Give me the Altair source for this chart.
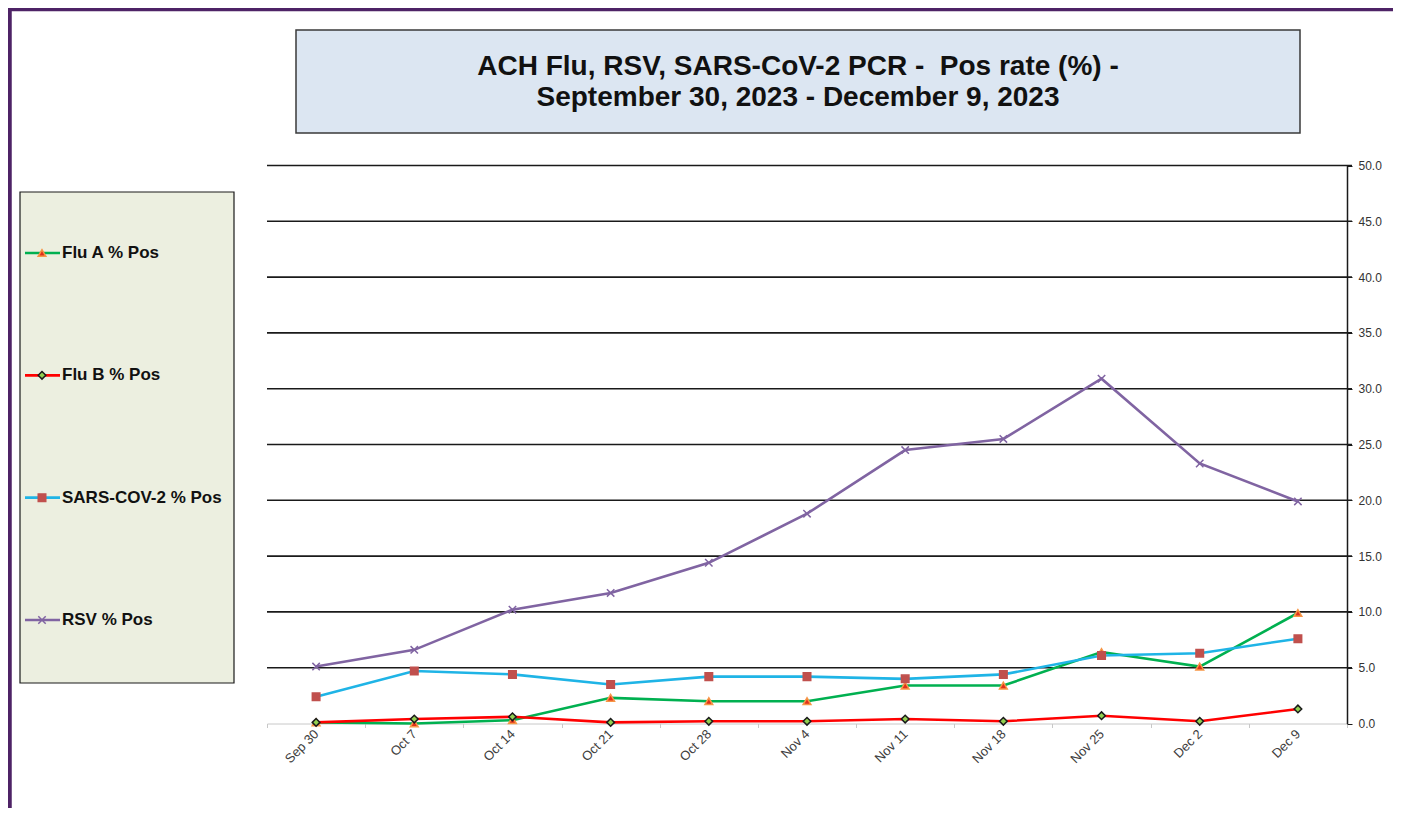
import altair as alt
import pandas as pd

# ---------------- data ----------------
weeks = ["Sep 30", "Oct 7", "Oct 14", "Oct 21", "Oct 28", "Nov 4",
         "Nov 11", "Nov 18", "Nov 25", "Dec 2", "Dec 9"]
series_names = ["Flu A % Pos", "Flu B % Pos", "SARS-COV-2 % Pos", "RSV % Pos"]
flu_a = [0.1, 0.0, 0.3, 2.3, 2.0, 2.0, 3.4, 3.4, 6.4, 5.1, 9.9]
flu_b = [0.1, 0.4, 0.6, 0.1, 0.2, 0.2, 0.4, 0.2, 0.7, 0.2, 1.3]
sars = [2.4, 4.7, 4.4, 3.5, 4.2, 4.2, 4.0, 4.4, 6.1, 6.3, 7.6]
rsv = [5.1, 6.6, 10.2, 11.7, 14.4, 18.8, 24.5, 25.5, 30.9, 23.3, 19.9]
y_ticks = [0, 5, 10, 15, 20, 25, 30, 35, 40, 45, 50]
title_lines = ["ACH Flu, RSV, SARS-CoV-2 PCR - \u00a0Pos rate (%) -",
               "September 30, 2023 - December 9, 2023"]

# ---------------- styles ----------------
line_colors = ["#00B050", "#FF0000", "#1FB4E6", "#8064A2"]
marker_fills = ["#E0301C", "#92D050", "#C0504D", "#8064A2"]
marker_strokes = ["#F79646", "#1A1A1A", "#C0504D", "#8064A2"]
marker_shapes = ["triangle-up", "diamond", "square", "M-1,-1L1,1M-1,1L1,-1"]
marker_sizes = [60, 55, 85, 110]
FONT = "Liberation Sans"

W, H = 1385, 800

rows = []
for name, vals in zip(series_names, [flu_a, flu_b, sars, rsv]):
    for i, (w, v) in enumerate(zip(weeks, vals)):
        rows.append({"week": w, "series": name, "value": v, "idx": i})
df = pd.DataFrame(rows)
grid_df = pd.DataFrame({"value": [t for t in y_ticks if t != 0]})
legend_df = pd.DataFrame({"series": series_names})
one = pd.DataFrame({"a": [0]})

color_enc = alt.Color("series:N", scale=alt.Scale(domain=series_names, range=line_colors), legend=None)
shape_enc = alt.Shape("series:N", scale=alt.Scale(domain=series_names, range=marker_shapes), legend=None)
fill_enc = alt.Fill("series:N", scale=alt.Scale(domain=series_names, range=marker_fills), legend=None)
stroke_enc = alt.Stroke("series:N", scale=alt.Scale(domain=series_names, range=marker_strokes), legend=None)
size_enc = alt.Size("series:N", scale=alt.Scale(domain=series_names, range=marker_sizes), legend=None)

x_enc = alt.X(
    "week:N", sort=weeks,
    scale=alt.Scale(type="band", domain=weeks, range=[259, 1339], paddingInner=0, paddingOuter=0),
    axis=alt.Axis(title=None, orient="bottom", offset=715.5 - H, labelAngle=-45,
                  labelAlign="right", labelBaseline="middle", labelFont=FONT,
                  labelFontSize=13, labelColor="#404040", labelPadding=4,
                  domainColor="#C8C8C8", domainWidth=1, tickColor="#C8C8C8",
                  tickSize=4, tickBand="extent", grid=False),
)
y_enc = alt.Y(
    "value:Q",
    scale=alt.Scale(domain=[0, 50], range=[715.5, 157.5], nice=False, zero=True),
    axis=alt.Axis(title=None, orient="right", offset=1339 - W, values=y_ticks, format=".1f",
                  grid=False, domainColor="#1A1A1A", domainWidth=1.5,
                  tickColor="#1A1A1A", tickSize=5, labelFont=FONT, labelFontSize=12,
                  labelColor="#333333", labelPadding=6),
)

gridlines = alt.Chart(grid_df).mark_rule(color="#1A1A1A", strokeWidth=1.6).encode(
    y=y_enc, x=alt.value(259), x2=alt.value(1344))
lines = alt.Chart(df).mark_line(strokeWidth=2.6).encode(
    x=x_enc, y=y_enc, color=color_enc, order=alt.Order("idx:Q"))
points = alt.Chart(df).mark_point(filled=True, strokeWidth=1.5, opacity=1).encode(
    x=x_enc, y=y_enc, shape=shape_enc, fill=fill_enc, stroke=stroke_enc, size=size_enc)
main = alt.layer(gridlines, lines, points)

legend_y = alt.Y("series:N", scale=alt.Scale(type="point", domain=series_names,
                                             range=[245, 612], padding=0), axis=None)
leg_rule = alt.Chart(legend_df).mark_rule(strokeWidth=2.6).encode(
    x=alt.value(17), x2=alt.value(52), y=legend_y, color=color_enc)
leg_pts = alt.Chart(legend_df).mark_point(filled=True, strokeWidth=1.5, opacity=1).encode(
    x=alt.value(34), y=legend_y, shape=shape_enc, fill=fill_enc, stroke=stroke_enc, size=size_enc)
leg_txt = alt.Chart(legend_df).mark_text(align="left", baseline="middle", font=FONT,
                                         fontSize=17, fontWeight="bold", color="#111111").encode(
    x=alt.value(54), y=legend_y, text="series:N")
legend_box = alt.Chart(one).mark_rect(fill="#ECEFE0", stroke="#1A1A1A", strokeWidth=1.2).encode(
    x=alt.value(12), x2=alt.value(226), y=alt.value(184), y2=alt.value(675))
legend = alt.layer(leg_rule, leg_pts, leg_txt)

title_box = alt.Chart(one).mark_rect(fill="#DCE6F2", stroke="#3A3A3A", strokeWidth=1.5).encode(
    x=alt.value(288), x2=alt.value(1292), y=alt.value(22), y2=alt.value(125))
title1 = alt.Chart(one).mark_text(text=title_lines[0], font=FONT, fontSize=28, fontWeight="bold",
                                  align="center", baseline="middle", color="#111111").encode(
    x=alt.value(790), y=alt.value(59))
title2 = alt.Chart(one).mark_text(text=title_lines[1], font=FONT, fontSize=28, fontWeight="bold",
                                  align="center", baseline="middle", color="#111111").encode(
    x=alt.value(790), y=alt.value(90))
border = alt.Chart(one).mark_rect(fill="transparent", stroke="#4E2366", strokeWidth=4.5).encode(
    x=alt.value(1.5), x2=alt.value(W + 60), y=alt.value(1.0), y2=alt.value(H + 60))

chart = alt.layer(
    title_box, title1, title2, legend_box, main, legend, border
).resolve_scale(y="independent").properties(
    width=W, height=H, padding=0,
    autosize=alt.AutoSizeParams(type="none"),
    background="white",
).configure_view(stroke=None)

chart.save("out.html", embed_options={"renderer": "svg", "actions": False})
